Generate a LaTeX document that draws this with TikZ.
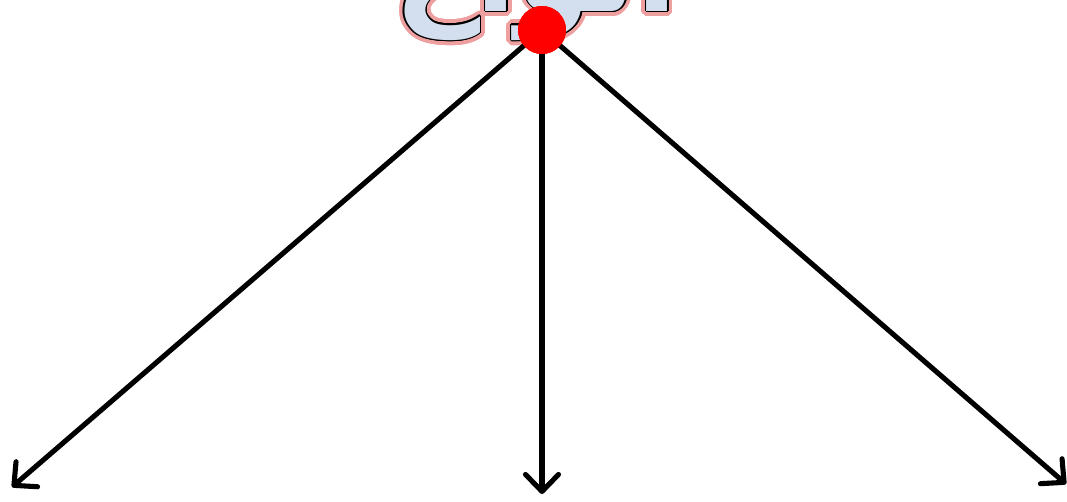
\documentclass[tikz,border=0pt]{standalone}
\usepackage{fontspec}
\usepackage{contour}
\newfontfamily\arabicfont[Script=Arabic]{DejaVu Sans}
\TeXXeTstate=1
\usetikzlibrary{arrows.meta,calc}
\definecolor{titlefill}{RGB}{211,223,238}
\definecolor{titleglow}{RGB}{238,160,160}
\newcommand{\titleword}{\fontsize{68}{78}\selectfont\arabicfont\bfseries}
\tikzset{
  branch/.style = {line width = 2.9pt, line cap = round,
    -{Straight Barb[length = 3.4mm, width = 6.6mm, round]}},
  reddot/.style = {circle, fill = red, minimum size = 0.96cm, inner sep = 0pt},
}
\begin{document}
\begin{tikzpicture}[x = 0.02cm, y = -0.02cm]
            \useasboundingbox (0,0) rectangle (1067,501);
            \clip (0,0) rectangle (1067,501);
            % title (only its lower part is seen)
            \node[anchor = base, inner sep = 0pt] (glow) at (536,11)
              {\titleword\contourlength{3pt}%
               \contour[24]{titleglow}{\textcolor{titleglow}{\beginR أنواع\endR}}};
            \node[anchor = base, inner sep = 0pt] (title) at (536,11)
              {\titleword\contourlength{0.8pt}%
               \contour[16]{black}{\textcolor{titlefill}{\beginR أنواع\endR}}};
            % ends of the branches
            \coordinate (l) at (12,487);
            \coordinate (m) at (542,494);
            \coordinate (r) at (1066,484);
            % root
            \node[reddot] (dot) at (542,30) {};
            % branches
            \path[draw, branch] (dot.center) -- (l);
            \path[draw, branch] (dot.center) -- (m);
            \path[draw, branch] (dot.center) -- (r);
            \node[reddot] at (dot) {};
        \end{tikzpicture}
\end{document}
